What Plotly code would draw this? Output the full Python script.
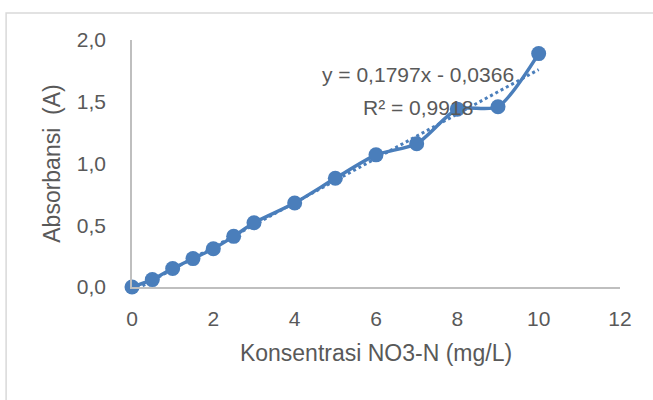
import plotly.graph_objects as go

konsentrasi = [0, 0.5, 1, 1.5, 2, 2.5, 3, 4, 5, 6, 7, 8, 9, 10]
absorbansi = [0.0, 0.06, 0.15, 0.23, 0.31, 0.41, 0.52, 0.68, 0.88, 1.07, 1.16, 1.44, 1.46, 1.89]
slope = 0.1797
intercept = -0.0366
r2 = 0.9918
x_ticks = [0, 2, 4, 6, 8, 10, 12]
y_ticks = [0.0, 0.5, 1.0, 1.5, 2.0]

color = "#4a7ebb"
font_family = "Liberation Sans, Arial, sans-serif"
gray = "#595959"

trend_x = [min(konsentrasi), max(konsentrasi)]
trend_y = [slope * v + intercept for v in trend_x]

fig = go.Figure()
fig.add_trace(go.Scatter(
    x=trend_x, y=trend_y, mode="lines",
    line=dict(color=color, width=3, dash="dot"),
    showlegend=False, hoverinfo="skip", cliponaxis=False,
))
fig.add_trace(go.Scatter(
    x=konsentrasi, y=absorbansi, mode="lines+markers",
    line=dict(color=color, width=3.5, shape="spline", smoothing=0.7),
    marker=dict(color=color, size=15),
    showlegend=False, cliponaxis=False,
))

def fmt(v, n):
    return f"{v:.{n}f}".replace(".", ",")

fig.add_annotation(
    x=7.03, y=1.717, xref="x", yref="y",
    text=f"y = {fmt(slope, 4)}x - {fmt(abs(intercept), 4)}", showarrow=False,
    font=dict(family=font_family, size=21, color=gray),
)
fig.add_annotation(
    x=7.03, y=1.457, xref="x", yref="y",
    text=f"R² = {fmt(r2, 4)}", showarrow=False,
    font=dict(family=font_family, size=21, color=gray),
)

fig.add_shape(type="rect", xref="paper", yref="paper",
              x0=-0.258, x1=1.2, y0=-0.6, y1=1.109,
              line=dict(color="#d9d9d9", width=1.5), layer="below")

fig.update_layout(
    width=653, height=400,
    margin=dict(l=132, r=33, t=40, b=113),
    paper_bgcolor="white", plot_bgcolor="white",
    separators=",.",
    font=dict(family=font_family, color=gray, size=20),
    xaxis=dict(
        range=[0, 12], tickvals=x_ticks, showgrid=False, zeroline=False,
        showline=True, linecolor="#bfbfbf", linewidth=1.5,
        ticks="", ticklabelstandoff=12, tickfont=dict(size=21, color=gray),
        title=dict(text="Konsentrasi NO3-N (mg/L)", font=dict(size=23, color=gray), standoff=16),
    ),
    yaxis=dict(
        range=[0, 2.0], tickvals=y_ticks, tickformat=".1f", showgrid=False, zeroline=False,
        showline=True, linecolor="#bfbfbf", linewidth=1.5,
        ticks="", ticklabelstandoff=20, tickfont=dict(size=21, color=gray),
        title=dict(text="Absorbansi  (A)", font=dict(size=23, color=gray), standoff=10),
    ),
)

fig.write_html("out.html", config={"displayModeBar": False},
               post_script="document.body.style.margin='0';")
